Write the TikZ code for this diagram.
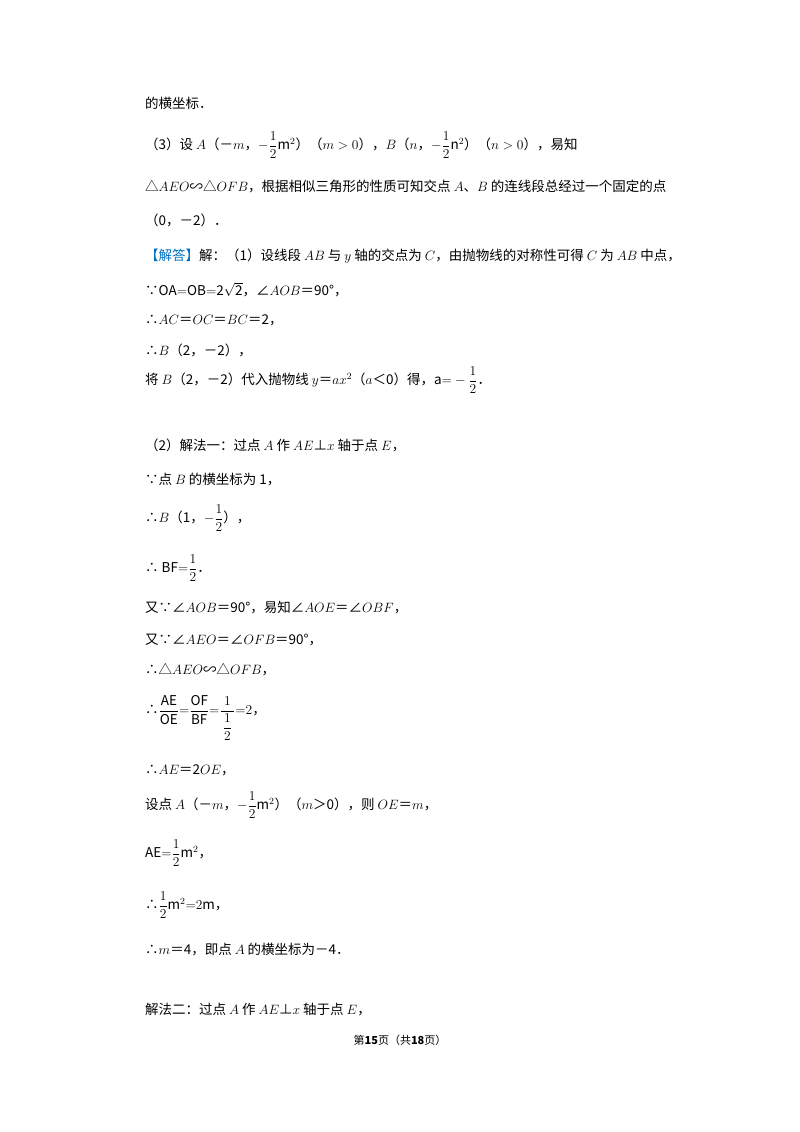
\RequirePackage{fix-cm}
\documentclass[tikz,border=0pt]{standalone}
\usepackage{amsmath}
\usepackage{fontspec}
\setmainfont{Noto Sans CJK SC}
\definecolor{ansblue}{RGB}{0,112,192}
\begin{document}
\begin{tikzpicture}[x=1pt,y=-1pt,line/.style={anchor=west,inner sep=0pt,font=\fontsize{13.5}{15}\selectfont}]
\useasboundingbox (0,0) rectangle (800,1132);
\node[line] (l1) at (145,103) {的横坐标．};
\node[line] (l2) at (145,145) {（3）设 $A$（－$m$，$-\dfrac{1}{2}\mathrm{m}^2$）（$m>0$），$B$（$n$，$-\dfrac{1}{2}\mathrm{n}^2$）（$n>0$），易知};
\node[line] (l3) at (145,186) {△$AEO$∽△$OFB$，根据相似三角形的性质可知交点 $A$、$B$ 的连线段总经过一个固定的点};
\node[line] (l4) at (145,220) {（0，－2）．};
\node[line] (l5) at (145,256) {\textcolor{ansblue}{【解答】}解：（1）设线段 $AB$ 与 $y$ 轴的交点为 $C$，由抛物线的对称性可得 $C$ 为 $AB$ 中点，};
\node[line] (l6) at (145,290) {∵$\mathrm{OA{=}OB{=}2\sqrt{2}}$，∠$AOB$＝90°，};
\node[line] (l7) at (145,320) {∴$AC$＝$OC$＝$BC$＝2，};
\node[line] (l8) at (145,350) {∴$B$（2，－2），};
\node[line] (l9) at (145,380) {将 $B$（2，－2）代入抛物线 $y$＝$ax^2$（$a$＜0）得，$\mathrm{a}{=}-\dfrac{1}{2}$．};
\node[line] (l10) at (145,445) {（2）解法一：过点 $A$ 作 $AE$⊥$x$ 轴于点 $E$，};
\node[line] (l11) at (145,480) {∵点 $B$ 的横坐标为 1，};
\node[line] (l12) at (145,518) {∴$B$（1，$-\dfrac{1}{2}$），};
\node[line] (l13) at (145,568) {∴ $\mathrm{BF}{=}\dfrac{1}{2}$．};
\node[line] (l14) at (145,608) {又∵∠$AOB$＝90°，易知∠$AOE$＝∠$OBF$，};
\node[line] (l15) at (145,640) {又∵∠$AEO$＝∠$OFB$＝90°，};
\node[line] (l16) at (145,670) {∴△$AEO$∽△$OFB$，};
\node[line] (l17) at (145,718) {∴$\dfrac{\mathrm{AE}}{\mathrm{OE}}{=}\dfrac{\mathrm{OF}}{\mathrm{BF}}{=}\dfrac{1}{\,\dfrac{1}{2}\,}{=}2$，};
\node[line] (l18) at (145,770) {∴$AE$＝2$OE$，};
\node[line] (l19) at (145,805) {设点 $A$（－$m$，$-\dfrac{1}{2}\mathrm{m}^2$）（$m$＞0），则 $OE$＝$m$，};
\node[line] (l20) at (145,853) {$\mathrm{AE}{=}\dfrac{1}{2}\mathrm{m}^2$，};
\node[line] (l21) at (145,905) {∴$\dfrac{1}{2}\mathrm{m}^2{=}2\mathrm{m}$，};
\node[line] (l22) at (145,950) {∴$m$＝4，即点 $A$ 的横坐标为－4．};
\node[line] (l23) at (145,1010) {解法二：过点 $A$ 作 $AE$⊥$x$ 轴于点 $E$，};
\node[anchor=center,inner sep=0pt,font=\fontsize{11}{13}\selectfont] (ft) at (400,1040) {第\textbf{15}页（共\textbf{18}页）};
\end{tikzpicture}
\end{document}
